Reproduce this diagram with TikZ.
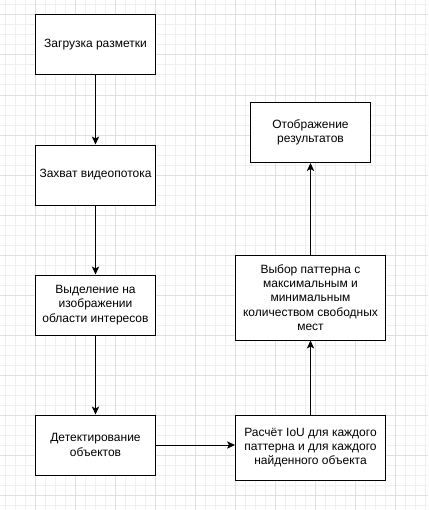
\documentclass[tikz,border=0pt]{standalone}
\usepackage{fontspec}
\setmainfont{Liberation Sans}
\usetikzlibrary{arrows.meta}
\begin{document}
\begin{tikzpicture}[x=0.75pt,y=-0.75pt,
  box/.style={draw=black,line width=0.75pt,fill=white,align=center,font=\fontsize{9pt}{10.8pt}\selectfont,inner sep=2pt,minimum width=90pt,minimum height=45pt},
  conn/.style={draw=black,line width=0.75pt,-{Stealth[length=6pt,width=5.5pt,inset=1.5pt]}},
  minorgrid/.style={draw=black!6,line width=0.75pt},
  majorgrid/.style={draw=black!12,line width=0.75pt}]
\useasboundingbox (0,0) rectangle (428,510);
\fill[white] (0,0) rectangle (428,510);
\foreach \x in {5,15,...,425} \draw[minorgrid] (\x,0) -- (\x,510);
\foreach \y in {5,15,...,505} \draw[minorgrid] (0,\y) -- (428,\y);
\foreach \x in {35,75,...,395} \draw[majorgrid] (\x,0) -- (\x,510);
\foreach \y in {15,55,...,495} \draw[majorgrid] (0,\y) -- (428,\y);

\node[box] (b1) at (95.5,45) {Загрузка разметки};
\node[box] (b2) at (95.5,175) {Захват видеопотока};
\node[box] (b3) at (95.5,305) {Выделение на\\изображении\\области интересов};
\node[box] (b4) at (95.5,445) {Детектирование\\объектов};
\node[box,minimum width=112.5pt,minimum height=48.75pt] (b5) at (310.5,447.5) {Расчёт IoU для каждого\\паттерна и для каждого\\найденного объекта};
\node[box,minimum width=112.5pt,minimum height=63.75pt] (b6) at (310.5,297.5) {Выбор паттерна с\\максимальным и\\минимальным\\количеством свободных\\мест};
\node[box] (b7) at (310.5,132.5) {Отображение\\результатов};

\draw[conn] (b1) -- (b2);
\draw[conn] (b2) -- (b3);
\draw[conn] (b3) -- (b4);
\draw[conn] (b4.east) -- (b4.east -| b5.west);
\draw[conn] (b5) -- (b6);
\draw[conn] (b6) -- (b7);
\end{tikzpicture}
\end{document}
